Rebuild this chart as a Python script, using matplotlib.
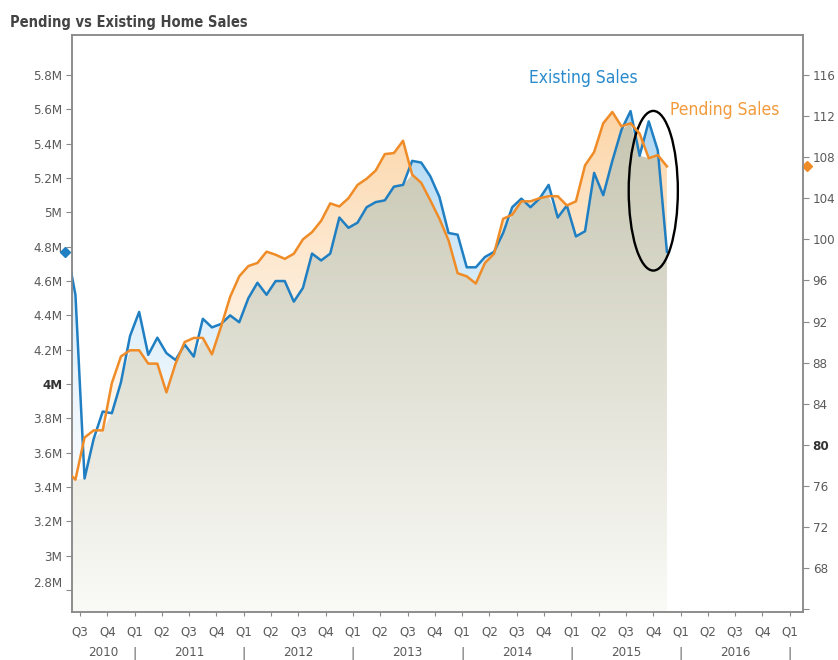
"""
plot.py - pending vs existing home sales, two axes with shaded gaps.
"""

import numpy as np
import matplotlib
matplotlib.use('Agg')
import matplotlib.pyplot as plt
import matplotlib.transforms as mtransforms
from matplotlib.path import Path
from matplotlib.patches import Ellipse
from matplotlib.colors import to_rgba

plt.rcParams['font.family'] = ['DejaVu Sans']
plt.rcParams['font.stretch'] = 'condensed'

# monthly values, May 2010 .. Nov 2015
existing = [4.80, 4.52, 3.45, 3.68, 3.84, 3.83, 4.01, 4.28,              # 2010
            4.42, 4.17, 4.27, 4.18, 4.14, 4.23, 4.16, 4.38, 4.33, 4.35, 4.40, 4.36,   # 2011
            4.50, 4.59, 4.52, 4.60, 4.60, 4.48, 4.56, 4.76, 4.72, 4.76, 4.97, 4.91,   # 2012
            4.94, 5.03, 5.06, 5.07, 5.15, 5.16, 5.30, 5.29, 5.21, 5.09, 4.88, 4.87,   # 2013
            4.68, 4.68, 4.74, 4.77, 4.88, 5.03, 5.08, 5.03, 5.08, 5.16, 4.97, 5.04,   # 2014
            4.86, 4.89, 5.23, 5.10, 5.30, 5.48, 5.59, 5.33, 5.53, 5.36, 4.77]         # 2015
pending = [77.5, 76.6, 80.7, 81.4, 81.4, 86.0, 88.6, 89.2,
           89.2, 87.9, 87.9, 85.1, 87.9, 90.0, 90.4, 90.4, 88.8, 91.5, 94.4, 96.4,
           97.4, 97.7, 98.8, 98.5, 98.1, 98.6, 100.0, 100.7, 101.8, 103.5, 103.2, 104.0,
           105.3, 105.9, 106.7, 108.3, 108.4, 109.6, 106.3, 105.5, 103.8, 102.0, 99.9, 96.7,
           96.4, 95.7, 97.7, 98.6, 102.0, 102.4, 103.7, 103.7, 104.0, 104.2, 104.2, 103.3,
           103.7, 107.2, 108.5, 111.3, 112.4, 111.0, 111.3, 110.3, 107.9, 108.2, 107.1]
first_month = -2   # months after Jul 2010 (May 2010)

left_ticks = [2.8, 3.0, 3.2, 3.4, 3.6, 3.8, 4.0, 4.2, 4.4, 4.6, 4.8, 5.0, 5.2, 5.4, 5.6, 5.8]
left_labels = ['2.8M', '3M', '3.2M', '3.4M', '3.6M', '3.8M', '4M', '4.2M', '4.4M', '4.6M',
               '4.8M', '5M', '5.2M', '5.4M', '5.6M', '5.8M']
right_ticks = [64, 68, 72, 76, 80, 84, 88, 92, 96, 100, 104, 108, 112, 116]
right_labels = [''] + [str(v) for v in right_ticks[1:]]
quarter_labels = ['Q3', 'Q4'] + ['Q1', 'Q2', 'Q3', 'Q4'] * 6 + ['Q1']
year_labels = ['2010', '2011', '2012', '2013', '2014', '2015', '2016']

BLUE = '#1f7fc2'
ORANGE = '#f08c28'
GREY = '#8a8a8a'
TXT = '#5a5a5a'

t = np.arange(len(existing)) + first_month + 0.5   # mid month, 0 = start of Jul 2010
existing = np.array(existing)
pending = np.array(pending)

fig = plt.figure(figsize=(8.38, 6.6), dpi=100)
ax = fig.add_axes([0.0859, 0.0732, 0.8723, 0.8745])
ax2 = ax.twinx()

ax.set_xlim(-0.88, 79.45)
ax.set_ylim(2.674, 6.036)
ax2.set_ylim(63.75, 119.94)

# pending line expressed in left-axis units so the gaps can be shaded on one axes
pts = ax2.transData.transform(np.column_stack([t, pending]))
pending_left = ax.transData.inverted().transform(pts)[:, 1]


def gradient_fill(lo, hi, top, bottom, where=None, z=1, gamma=1.0):
    coll = ax.fill_between(t, lo, hi, where=where, interpolate=True,
                           facecolor='none', edgecolor='none')
    paths = coll.get_paths()
    if not paths:
        return
    clip = Path.make_compound_path(*paths)
    x0, x1 = ax.get_xlim()
    y0, y1 = ax.get_ylim()
    f = np.linspace(0, 1, 256)[:, None] ** gamma
    c0 = np.array(to_rgba(bottom))
    c1 = np.array(to_rgba(top))
    grad = (c0 + (c1 - c0) * f)[:, None, :]
    im = ax.imshow(grad, extent=[x0, x1, y0, y1], origin='lower', aspect='auto',
                   interpolation='bilinear', zorder=z)
    im.set_clip_path(clip, ax.transData)
    ax.set_xlim(x0, x1)
    ax.set_ylim(y0, y1)


low = np.minimum(existing, pending_left)
gradient_fill(np.full_like(low, ax.get_ylim()[0]), low, '#bebda6', '#fafaf7')
gradient_fill(pending_left, existing, '#94caee', '#ffffff', where=existing >= pending_left,
              z=1.1, gamma=1.8)
gradient_fill(existing, pending_left, '#fbc98e', '#ffffff', where=pending_left >= existing,
              z=1.1, gamma=1.8)

ax.plot(t, existing, color=BLUE, lw=1.8, zorder=3)
ax2.plot(t, pending, color=ORANGE, lw=1.8, zorder=3)

# last value markers on each axis
ax.plot([-0.0096], [existing[-1]], marker='D', ms=5, color=BLUE, clip_on=False,
        transform=mtransforms.blended_transform_factory(ax.transAxes, ax.transData))
ax2.plot([1.0055], [pending[-1]], marker='D', ms=5, color=ORANGE, clip_on=False,
         transform=mtransforms.blended_transform_factory(ax2.transAxes, ax2.transData))

ax.add_patch(Ellipse((63.0, 5.126), 5.4, 0.93, fill=False, ec='black', lw=1.7, zorder=4))

ax.text(55.3, 5.783, 'Existing Sales', color='#2a8bcc', fontsize=12.5, ha='center', va='center')
ax.text(70.8, 5.596, 'Pending Sales', color='#f39a3c', fontsize=12.5, ha='center', va='center')

# axes styling
for a in (ax, ax2):
    for s in a.spines.values():
        s.set_color(GREY)
        s.set_linewidth(1.1)

ax.set_yticks(left_ticks)
ax.set_yticklabels(left_labels)
ax.tick_params(axis='y', direction='out', length=4, color=GREY, labelcolor=TXT, labelsize=9.5, pad=3)
ax2.set_yticks(right_ticks)
ax2.set_yticklabels(right_labels)
ax2.tick_params(axis='y', direction='out', length=4, color=GREY, labelcolor=TXT, labelsize=9.5, pad=3)

ax.set_xticks(np.arange(0, 79, 3))
ax.set_xticklabels(quarter_labels)
ax.tick_params(axis='x', direction='out', length=3, color=GREY, labelcolor=TXT, labelsize=9.5, pad=7)

for lab in ax.get_yticklabels():
    if lab.get_text() == '4M':
        lab.set_fontweight('bold')
        lab.set_color('#333333')
for lab in ax2.get_yticklabels():
    if lab.get_text() == '80':
        lab.set_fontweight('bold')
        lab.set_color('#333333')
# 2.8M sits a little above its tick in the original
for lab in ax.get_yticklabels():
    if lab.get_text() == '2.8M':
        lab.set_transform(lab.get_transform() +
                          mtransforms.ScaledTranslation(0, 8 / 100, fig.dpi_scale_trans))

xy = mtransforms.blended_transform_factory(ax.transData, ax.transAxes)
year_pos = [(ax.get_xlim()[0] + 6) / 2] + [12 + 12 * i for i in range(6)]
for xp, yr in zip(year_pos, year_labels):
    ax.text(xp, -0.071, yr, transform=xy, ha='center', va='center', fontsize=9.5, color=TXT)
for xp in range(6, 79, 12):
    ax.text(xp, -0.073, '|', transform=xy, ha='center', va='center', fontsize=10, color=TXT)

fig.text(10 / 838, 1 - 22 / 660, 'Pending vs Existing Home Sales', fontsize=10.5,
         fontweight='bold', color='#444444', ha='left', va='center')

fig.savefig('out.png', dpi=100)
